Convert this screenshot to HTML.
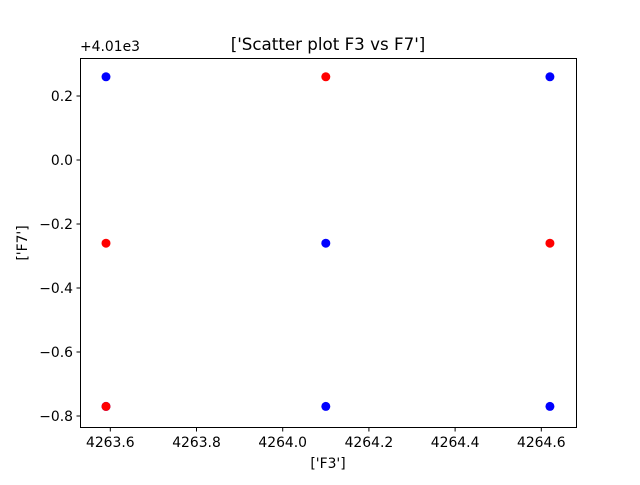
<!DOCTYPE html>
<html><head><meta charset="utf-8"><style>
body{margin:0;background:#fff}
svg text{font-family:"DejaVu Sans","Liberation Sans",sans-serif;fill:#000}
</style></head><body>
<svg id="chart" width="640" height="480" xmlns="http://www.w3.org/2000/svg">
<rect width="640" height="480" fill="#fff"/>
<text x="328" y="50" font-size="16.7" text-anchor="middle">['Scatter plot F3 vs F7']</text>
<text x="80" y="51" font-size="13.9">+4.01e3</text>
<g id="ticks"></g>
<g id="points"></g>
<rect x="80.5" y="58.5" width="496" height="369" fill="none" stroke="#000" stroke-width="1"/>
<text x="328" y="468" font-size="13.9" text-anchor="middle">['F3']</text>
<text x="27" y="243" font-size="13.9" text-anchor="middle" transform="rotate(-90 27 243)">['F7']</text>
</svg>
<script>
const xTicks=[4263.6,4263.8,4264.0,4264.2,4264.4,4264.6];
const xTickLabels=["4263.6","4263.8","4264.0","4264.2","4264.4","4264.6"];
const yTicks=[0.2,0.0,-0.2,-0.4,-0.6,-0.8];
const yTickLabels=["0.2","0.0","−0.2","−0.4","−0.6","−0.8"];
const blueX=[4263.59,4264.62,4264.10,4264.10,4264.62,4263.59];
const blueY=[0.26,0.26,-0.26,-0.77,-0.77,-0.77];
const redX=[4264.10,4263.59,4264.62,4263.59];
const redY=[0.26,-0.26,-0.26,-0.77];
const NS="http://www.w3.org/2000/svg";
function xs(v){return 106+(v-4263.59)*431;}
function ys(v){return 160-v*320;}
const tg=document.getElementById('ticks');
xTicks.forEach((v,i)=>{
 const x=xs(v);
 const l=document.createElementNS(NS,'line');
 l.setAttribute('x1',x);l.setAttribute('x2',x);l.setAttribute('y1',427.5);l.setAttribute('y2',431.5);l.setAttribute('stroke','#000');
 
 
 tg.appendChild(l);
 const t=document.createElementNS(NS,'text');
 t.setAttribute('x',x);t.setAttribute('y',447);t.setAttribute('font-size','13.9');t.setAttribute('text-anchor','middle');
 t.textContent=xTickLabels[i];
 
 
 tg.appendChild(t);
});
yTicks.forEach((v,i)=>{
 const y=ys(v);
 const l=document.createElementNS(NS,'line');
 l.setAttribute('x1',76.5);l.setAttribute('x2',80.5);l.setAttribute('y1',y);l.setAttribute('y2',y);l.setAttribute('stroke','#000');
 
 
 tg.appendChild(l);
 const t=document.createElementNS(NS,'text');
 t.setAttribute('x',73);t.setAttribute('y',y+5);t.setAttribute('font-size','13.9');t.setAttribute('text-anchor','end');
 t.textContent=yTickLabels[i];
 
 
 tg.appendChild(t);
});
const pg=document.getElementById('points');
function dot(x,y,c,name){
 const e=document.createElementNS(NS,'circle');
 e.setAttribute('cx',xs(x));e.setAttribute('cy',ys(y));e.setAttribute('r',4.5);e.setAttribute('fill',c);
 
 
 pg.appendChild(e);
}
blueX.forEach((x,i)=>dot(x,blueY[i],'#0000ff','blue-point'));
redX.forEach((x,i)=>dot(x,redY[i],'#ff0000','red-point'));
</script>
</body></html>
